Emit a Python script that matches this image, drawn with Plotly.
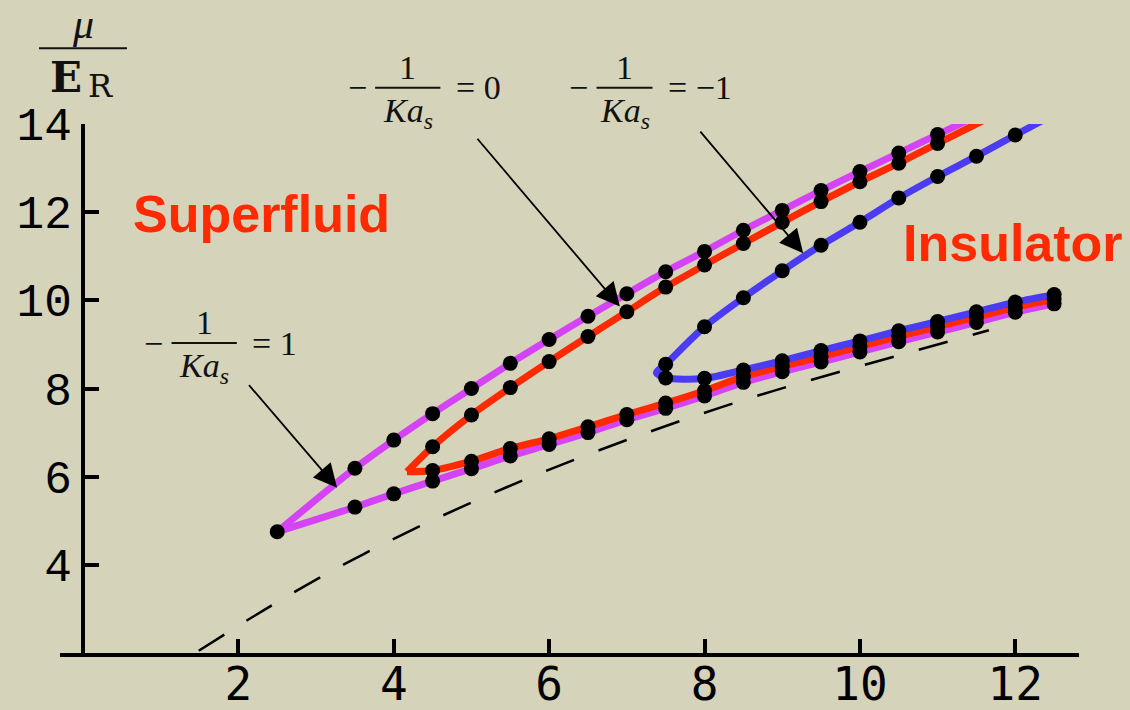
import plotly.graph_objects as go

# ---------------- data ----------------
# branch for -1/(K a_s) = 1  (magenta)
mag_up_x = [2.5, 3.5, 4.0, 4.5, 5.0, 5.5, 6.0, 6.5, 7.0, 7.5, 8.0, 8.5, 9.0, 9.5, 10.0, 10.5, 11.0]
mag_up_y = [4.75, 6.19, 6.83, 7.43, 8.0, 8.57, 9.11, 9.64, 10.15, 10.65, 11.11, 11.59, 12.04, 12.49, 12.92, 13.34, 13.76]
mag_lo_x = [2.5, 3.5, 4.0, 4.5, 5.0, 5.5, 6.0, 6.5, 7.0, 7.5, 8.0, 8.5, 9.0, 9.5, 10.0, 10.5, 11.0, 11.5, 12.0, 12.5]
mag_lo_y = [4.75, 5.31, 5.61, 5.90, 6.18, 6.47, 6.73, 7.00, 7.29, 7.55, 7.83, 8.14, 8.38, 8.60, 8.83, 9.06, 9.28, 9.50, 9.73, 9.92]
mag_exit = (11.55, 14.22)          # where the upper branch leaves the frame

# branch for -1/(K a_s) = 0  (red)
red_tip = (4.17, 6.11)
red_up_x = [4.5, 5.0, 5.5, 6.0, 6.5, 7.0, 7.5, 8.0, 8.5, 9.0, 9.5, 10.0, 10.5, 11.0]
red_up_y = [6.68, 7.40, 8.02, 8.61, 9.18, 9.74, 10.30, 10.80, 11.29, 11.77, 12.24, 12.69, 13.11, 13.56]
red_lo_x = [4.5, 5.0, 5.5, 6.0, 6.5, 7.0, 7.5, 8.0, 8.5, 9.0, 9.5, 10.0, 10.5, 11.0, 11.5, 12.0, 12.5]
red_lo_y = [6.14, 6.35, 6.64, 6.86, 7.13, 7.41, 7.67, 7.95, 8.27, 8.50, 8.72, 8.95, 9.18, 9.40, 9.62, 9.84, 10.03]
red_exit = (11.75, 14.22)

# branch for -1/(K a_s) = -1  (blue)
blue_tip = (7.38, 8.36)
blue_up_x = [7.5, 8.0, 8.5, 9.0, 9.5, 10.0, 10.5, 11.0, 11.5, 12.0]
blue_up_y = [8.55, 9.40, 10.06, 10.67, 11.25, 11.77, 12.32, 12.81, 13.27, 13.75]
blue_lo_x = [7.5, 8.0, 8.5, 9.0, 9.5, 10.0, 10.5, 11.0, 11.5, 12.0, 12.5]
blue_lo_y = [8.24, 8.23, 8.42, 8.63, 8.86, 9.08, 9.31, 9.52, 9.74, 9.96, 10.13]
blue_exit = (12.5, 14.22)

# dashed reference curve
dash_x = [1.49, 2.42, 3.37, 4.40, 5.75, 7.23, 8.69, 10.17, 11.66]
dash_y = [2.05, 3.07, 4.02, 4.93, 5.98, 6.98, 7.84, 8.59, 9.32]

x_ticks = [2, 4, 6, 8, 10, 12]
y_ticks = [4, 6, 8, 10, 12, 14]

# ---------------- styling ----------------
BG = "#d5d3b9"
MAGENTA = "#d444f6"
RED = "#ff2a00"
BLUE = "#4b3cf4"
TXT_RED = "#ff2a00"
INK = "#111111"
LW = 7

W, H = 1130, 710
M = dict(l=60, r=51, t=124, b=57, pad=0)
XR = [-0.296, 12.82]
YR = [2.0, 14.0]


def to_paper(x, y):
    return ((x - XR[0]) / (XR[1] - XR[0]), (y - YR[0]) / (YR[1] - YR[0]))


fig = go.Figure()


def line(xs, ys, color):
    fig.add_trace(go.Scatter(x=xs, y=ys, mode="lines",
                             line=dict(color=color, width=LW, shape="spline", smoothing=0.8),
                             hoverinfo="skip", showlegend=False))


# dashed curve
fig.add_trace(go.Scatter(x=dash_x, y=dash_y, mode="lines",
                         line=dict(color="black", width=2.5, dash="30px,26px", shape="spline"),
                         hoverinfo="skip", showlegend=False))

# magenta
line(mag_lo_x, mag_lo_y, MAGENTA)
line(mag_up_x + [mag_exit[0]], mag_up_y + [mag_exit[1]], MAGENTA)
# red
line([red_tip[0]] + red_lo_x, [red_tip[1]] + red_lo_y, RED)
line([red_tip[0]] + red_up_x + [red_exit[0]], [red_tip[1]] + red_up_y + [red_exit[1]], RED)
# blue: one smooth path around the turning point
bx = [blue_exit[0]] + blue_up_x[::-1] + [blue_tip[0]] + blue_lo_x
by = [blue_exit[1]] + blue_up_y[::-1] + [blue_tip[1]] + blue_lo_y
line(bx, by, BLUE)

# black dots on the computed points
dot_x = mag_up_x + mag_lo_x[1:] + red_up_x + red_lo_x + blue_up_x + blue_lo_x
dot_y = mag_up_y + mag_lo_y[1:] + red_up_y + red_lo_y + blue_up_y + blue_lo_y
fig.add_trace(go.Scatter(x=dot_x, y=dot_y, mode="markers",
                         marker=dict(color="black", size=15, line=dict(width=0)),
                         hoverinfo="skip", showlegend=False))

annotations = []
shapes = []

SERIF = "Liberation Serif"


def text_at(x, y, text, font, xanchor="center"):
    px, py = to_paper(x, y)
    annotations.append(dict(x=px, y=py, xref="paper", yref="paper", text=text, showarrow=False,
                            xanchor=xanchor, yanchor="middle", font=font))


def hbar(x0, x1, y):
    px0, py = to_paper(x0, y)
    px1, _ = to_paper(x1, y)
    shapes.append(dict(type="line", xref="paper", yref="paper", x0=px0, y0=py, x1=px1, y1=py,
                       line=dict(color=INK, width=2)))


def frac_label(xc, yc, rhs, half_w):
    f = dict(family=SERIF, size=34, color=INK)
    text_at(xc - half_w - 0.23, yc, "\u2212", f)
    text_at(xc, yc + 0.47, "1", f)
    text_at(xc, yc - 0.56, "<i>Ka</i><sub><i>s</i></sub>", f)
    text_at(xc + half_w + 0.17, yc, rhs, f, xanchor="left")
    hbar(xc - half_w, xc + half_w, yc)


frac_label(1.56, 9.03, "= 1", 0.42)
frac_label(4.18, 14.82, "= 0", 0.42)
frac_label(6.97, 14.82, "= \u22121", 0.36)


def arrow(xh, yh, xt, yt):
    annotations.append(dict(x=xh, y=yh, ax=xt, ay=yt, xref="x", yref="y", axref="x", ayref="y",
                            text="", showarrow=True, arrowhead=2, arrowsize=2.6, arrowwidth=1.8,
                            arrowcolor="black"))


arrow(3.27, 5.75, 2.12, 8.11)
arrow(6.91, 9.86, 5.06, 13.70)
arrow(9.27, 11.07, 7.93, 13.86)

# region labels
text_at(2.30, 11.95, "<b>Superfluid</b>",
        dict(family="Liberation Sans", size=52, color=TXT_RED))
text_at(10.53, 11.30, "<b>Insulator</b>",
        dict(family="Liberation Sans", size=52, color=TXT_RED), xanchor="left")

# axis title  mu / E_R
text_at(0.0, 16.26, "<i>\u03bc</i>", dict(family=SERIF, size=42, color=INK))
text_at(-0.22, 15.05, "<b>E</b>", dict(family="DejaVu Serif", size=42, color=INK))
text_at(0.22, 14.86, "R", dict(family="DejaVu Serif", size=32, color=INK))
hbar(-0.566, 0.566, 15.72)

fig.update_layout(
    width=W, height=H, margin=M,
    paper_bgcolor=BG, plot_bgcolor=BG,
    showlegend=False,
    annotations=annotations, shapes=shapes,
    xaxis=dict(range=XR, tickvals=x_ticks, ticktext=[str(v) for v in x_ticks],
               automargin=False,
               ticks="inside", ticklen=14, tickwidth=4, tickcolor="black",
               showline=True, linewidth=4, linecolor="black",
               showgrid=False, zeroline=False, ticklabelstandoff=-12,
               tickfont=dict(family="DejaVu Sans Mono", size=46, color="black")),
    yaxis=dict(range=YR, tickvals=y_ticks, ticktext=[str(v) for v in y_ticks],
               anchor="free", position=(0 - XR[0]) / (XR[1] - XR[0]),
               automargin=False,
               ticks="inside", ticklen=14, tickwidth=4, tickcolor="black",
               showline=True, linewidth=4, linecolor="black",
               showgrid=False, zeroline=False,
               tickfont=dict(family="Liberation Mono", size=46, color="black")),
)

fig.write_html("out.html")
